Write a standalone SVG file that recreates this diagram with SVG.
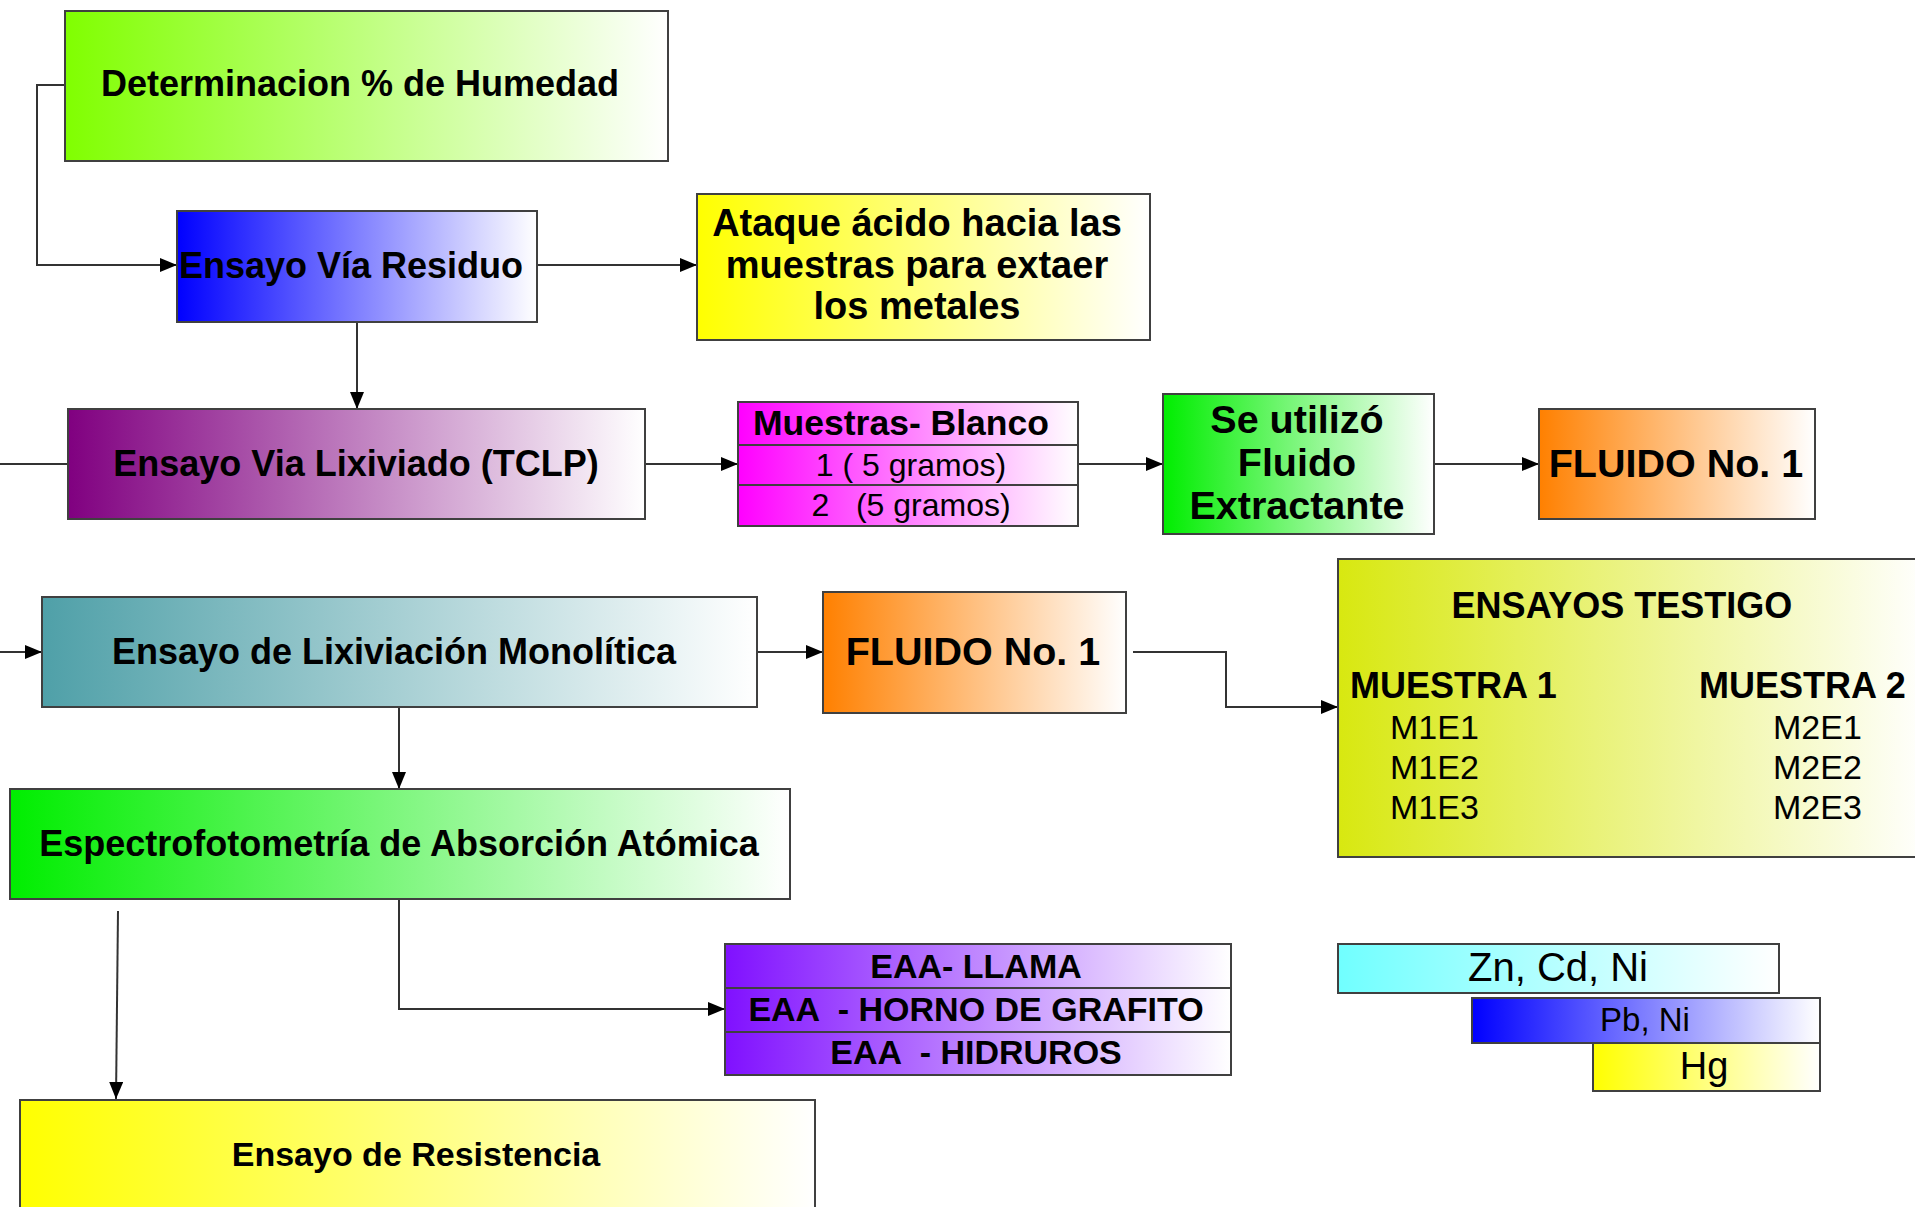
<svg xmlns="http://www.w3.org/2000/svg" width="1915" height="1207" viewBox="0 0 1915 1207">
<style>
.box{stroke:#404040;stroke-width:2}
.t{font-family:"Liberation Sans",Arial,sans-serif;font-weight:bold;fill:#000;text-anchor:middle}
.r{font-family:"Liberation Sans",Arial,sans-serif;fill:#000;text-anchor:middle}
.s{text-anchor:start}
.c{fill:none;stroke:#333;stroke-width:2}
</style>
<defs>
<linearGradient id="gLime"><stop offset="0" stop-color="#80ff00"/><stop offset="1" stop-color="#fff"/></linearGradient>
<linearGradient id="gBlue"><stop offset="0" stop-color="#0000ff"/><stop offset="1" stop-color="#fff"/></linearGradient>
<linearGradient id="gYel"><stop offset="0" stop-color="#ffff00"/><stop offset="1" stop-color="#fff"/></linearGradient>
<linearGradient id="gPur"><stop offset="0" stop-color="#800080"/><stop offset="1" stop-color="#fff"/></linearGradient>
<linearGradient id="gMag"><stop offset="0" stop-color="#ff00ff"/><stop offset="1" stop-color="#fff"/></linearGradient>
<linearGradient id="gGrn"><stop offset="0" stop-color="#00ee00"/><stop offset="1" stop-color="#fff"/></linearGradient>
<linearGradient id="gOra"><stop offset="0" stop-color="#ff8000"/><stop offset="1" stop-color="#fff"/></linearGradient>
<linearGradient id="gTeal"><stop offset="0" stop-color="#4fa0a8"/><stop offset="1" stop-color="#fff"/></linearGradient>
<linearGradient id="gOli"><stop offset="0" stop-color="#d8e810"/><stop offset="1" stop-color="#fff"/></linearGradient>
<linearGradient id="gVio"><stop offset="0" stop-color="#8010ff"/><stop offset="1" stop-color="#fff"/></linearGradient>
<linearGradient id="gCy"><stop offset="0" stop-color="#70ffff"/><stop offset="1" stop-color="#fff"/></linearGradient>
<marker id="ah" markerUnits="userSpaceOnUse" markerWidth="18" markerHeight="14" refX="17" refY="7" orient="auto">
<path d="M0,0 L17,7 L0,14 z" fill="#000"/>
</marker>
</defs>

<g id="connectors">
<polyline class="c" points="65,85 37,85 37,265 177,265" marker-end="url(#ah)"/>
<line class="c" x1="537" y1="265" x2="697" y2="265" marker-end="url(#ah)"/>
<line class="c" x1="357" y1="322" x2="357" y2="409" marker-end="url(#ah)"/>
<line class="c" x1="0" y1="464" x2="68" y2="464"/>
<line class="c" x1="645" y1="464" x2="738" y2="464" marker-end="url(#ah)"/>
<line class="c" x1="1078" y1="464" x2="1163" y2="464" marker-end="url(#ah)"/>
<line class="c" x1="1434" y1="464" x2="1539" y2="464" marker-end="url(#ah)"/>
<line class="c" x1="0" y1="652" x2="42" y2="652" marker-end="url(#ah)"/>
<line class="c" x1="757" y1="652" x2="823" y2="652" marker-end="url(#ah)"/>
<polyline class="c" points="1133,652 1226,652 1226,707 1338,707" marker-end="url(#ah)"/>
<line class="c" x1="399" y1="707" x2="399" y2="789" marker-end="url(#ah)"/>
<polyline class="c" points="399,899 399,1009 725,1009" marker-end="url(#ah)"/>
<line class="c" x1="118" y1="911" x2="116" y2="1099" marker-end="url(#ah)"/>
</g>

<g id="n-humedad">
<rect class="box" x="65" y="11" width="603" height="150" fill="url(#gLime)"/>
<text class="t" x="360" y="96" font-size="36">Determinacion % de Humedad</text>
</g>

<g id="n-residuo">
<rect class="box" x="177" y="211" width="360" height="111" fill="url(#gBlue)"/>
<text class="t" x="351" y="278" font-size="36">Ensayo Vía Residuo</text>
</g>

<g id="n-ataque">
<rect class="box" x="697" y="194" width="453" height="146" fill="url(#gYel)"/>
<text class="t" x="917" y="236" font-size="38">Ataque ácido hacia las</text>
<text class="t" x="917" y="278" font-size="38">muestras para extaer</text>
<text class="t" x="917" y="319" font-size="38">los metales</text>
</g>

<g id="n-lixiviado">
<rect class="box" x="68" y="409" width="577" height="110" fill="url(#gPur)"/>
<text class="t" x="356" y="476" font-size="36">Ensayo Via Lixiviado (TCLP)</text>
</g>

<g id="n-muestras">
<rect class="box" x="738" y="402" width="340" height="124" fill="url(#gMag)"/>
<line class="box" x1="738" y1="445" x2="1078" y2="445"/>
<line class="box" x1="738" y1="485" x2="1078" y2="485"/>
<text class="t" x="901" y="435" font-size="35.5">Muestras- Blanco</text>
<text class="r" x="911" y="476" font-size="32" xml:space="preserve">1 ( 5 gramos)</text>
<text class="r" x="911" y="516" font-size="32" xml:space="preserve">2   (5 gramos)</text>
</g>

<g id="n-fluidoext">
<rect class="box" x="1163" y="394" width="271" height="140" fill="url(#gGrn)"/>
<text class="t" x="1297" y="433" font-size="39.5">Se utilizó</text>
<text class="t" x="1297" y="476" font-size="39.5">Fluido</text>
<text class="t" x="1297" y="519" font-size="39.5">Extractante</text>
</g>

<g id="n-fluido1">
<rect class="box" x="1539" y="409" width="276" height="110" fill="url(#gOra)"/>
<text class="t" x="1676" y="477" font-size="39.5">FLUIDO No. 1</text>
</g>

<g id="n-monolitica">
<rect class="box" x="42" y="597" width="715" height="110" fill="url(#gTeal)"/>
<text class="t" x="394" y="664" font-size="36">Ensayo de Lixiviación Monolítica</text>
</g>

<g id="n-fluido2">
<rect class="box" x="823" y="592" width="303" height="121" fill="url(#gOra)"/>
<text class="t" x="973" y="665" font-size="39.5">FLUIDO No. 1</text>
</g>

<g id="n-testigo">
<rect class="box" x="1338" y="559" width="590" height="298" fill="url(#gOli)"/>
<text class="t" x="1622" y="618" font-size="36">ENSAYOS TESTIGO</text>
<text class="t s" x="1350" y="698" font-size="36">MUESTRA 1</text>
<text class="t s" x="1699" y="698" font-size="36">MUESTRA 2</text>
<text class="r s" x="1390" y="739" font-size="34">M1E1</text>
<text class="r s" x="1390" y="779" font-size="34">M1E2</text>
<text class="r s" x="1390" y="819" font-size="34">M1E3</text>
<text class="r s" x="1773" y="739" font-size="34">M2E1</text>
<text class="r s" x="1773" y="779" font-size="34">M2E2</text>
<text class="r s" x="1773" y="819" font-size="34">M2E3</text>
</g>

<g id="n-espectro">
<rect class="box" x="10" y="789" width="780" height="110" fill="url(#gGrn)"/>
<text class="t" x="399" y="856" font-size="36">Espectrofotometría de Absorción Atómica</text>
</g>

<g id="n-eaa">
<rect class="box" x="725" y="944" width="506" height="131" fill="url(#gVio)"/>
<line class="box" x1="725" y1="988" x2="1231" y2="988"/>
<line class="box" x1="725" y1="1032" x2="1231" y2="1032"/>
<text class="t" x="976" y="978" font-size="34" xml:space="preserve">EAA- LLAMA</text>
<text class="t" x="976" y="1021" font-size="34" xml:space="preserve">EAA  - HORNO DE GRAFITO</text>
<text class="t" x="976" y="1064" font-size="34" xml:space="preserve">EAA  - HIDRUROS</text>
</g>

<g id="n-resistencia">
<rect class="box" x="20" y="1100" width="795" height="120" fill="url(#gYel)"/>
<text class="t" x="416" y="1166" font-size="34">Ensayo de Resistencia</text>
</g>

<g id="n-zn">
<rect class="box" x="1338" y="944" width="441" height="49" fill="url(#gCy)"/>
<text class="r" x="1558" y="981" font-size="40">Zn, Cd, Ni</text>
</g>

<g id="n-pb">
<rect class="box" x="1472" y="998" width="348" height="45" fill="url(#gBlue)"/>
<text class="r" x="1645" y="1031" font-size="33">Pb, Ni</text>
</g>

<g id="n-hg">
<rect class="box" x="1593" y="1043" width="227" height="48" fill="url(#gYel)"/>
<text class="r" x="1704" y="1079" font-size="38">Hg</text>
</g>
</svg>
